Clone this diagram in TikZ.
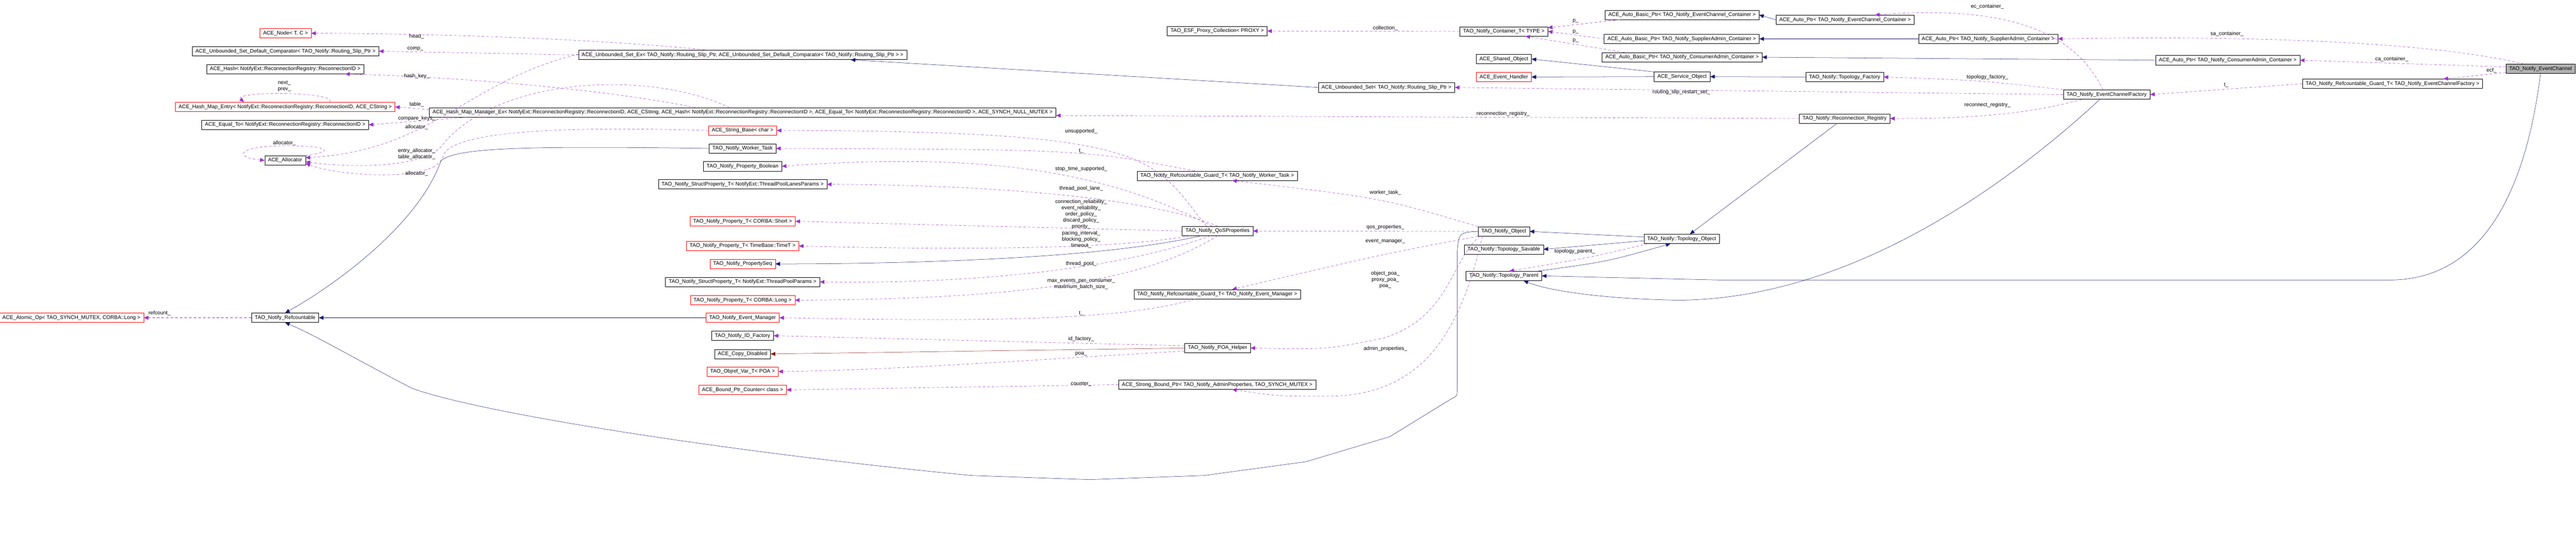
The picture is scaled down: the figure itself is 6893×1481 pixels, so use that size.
\documentclass[tikz,border=0pt]{standalone}
\usepackage{fontspec}
\setmainfont{Liberation Sans}
\usetikzlibrary{arrows.meta,calc}
\definecolor{usecol}{HTML}{9A32CD}
\definecolor{inhcol}{HTML}{191970}
\definecolor{privcol}{HTML}{8B1A1A}
\tikzset{
  cls/.style={draw=black,fill=white,minimum height=0.5cm,inner xsep=5pt,inner ysep=1pt,font=\fontsize{8}{9}\selectfont},
  redcls/.style={cls,draw=red},
  curcls/.style={cls,fill=gray!60},
  use/.style={usecol,dashed,dash pattern=on 4pt off 3pt,-{Triangle[length=7pt,width=6pt]}},
  inh/.style={inhcol,-{Triangle[length=7pt,width=6pt]}},
  priv/.style={privcol,-{Triangle[length=7pt,width=6pt]}},
  lbl/.style={font=\fontsize{8}{9.5}\selectfont,align=center,inner sep=0pt}
}
\begin{document}
\begin{tikzpicture}[x=0.02cm,y=-0.02cm]
\useasboundingbox (0,0) rectangle (6893,1481);
% left column
\node[redcls] (nNode) at (764,89) {ACE\_Node< T, C >};
\node[cls] (nDefComp) at (764,137) {ACE\_Unbounded\_Set\_Default\_Comparator< TAO\_Notify::Routing\_Slip\_Ptr >};
\node[cls] (nHash) at (763,185) {ACE\_Hash< NotifyExt::ReconnectionRegistry::ReconnectionID >};
\node[redcls] (nEntry) at (763,286) {ACE\_Hash\_Map\_Entry< NotifyExt::ReconnectionRegistry::ReconnectionID, ACE\_CString >};
\node[cls] (nEqual) at (763,334) {ACE\_Equal\_To< NotifyExt::ReconnectionRegistry::ReconnectionID >};
\node[cls] (nAlloc) at (763,429) {ACE\_Allocator};
\node[redcls] (nAtomic) at (191,850) {ACE\_Atomic\_Op< TAO\_SYNCH\_MUTEX, CORBA::Long >};
\node[cls] (nRefc) at (763,850) {TAO\_Notify\_Refcountable};
% second column
\node[cls] (nSetEx) at (1987,147) {ACE\_Unbounded\_Set\_Ex< TAO\_Notify::Routing\_Slip\_Ptr, ACE\_Unbounded\_Set\_Default\_Comparator< TAO\_Notify::Routing\_Slip\_Ptr > >};
\node[cls] (nHMM) at (1987,301) {ACE\_Hash\_Map\_Manager\_Ex< NotifyExt::ReconnectionRegistry::ReconnectionID, ACE\_CString, ACE\_Hash< NotifyExt::ReconnectionRegistry::ReconnectionID >, ACE\_Equal\_To< NotifyExt::ReconnectionRegistry::ReconnectionID >, ACE\_SYNCH\_NULL\_MUTEX >};
\node[redcls] (nStrBase) at (1987,349) {ACE\_String\_Base< char >};
\node[cls] (nWorker) at (1987,397) {TAO\_Notify\_Worker\_Task};
\node[cls] (nPBool) at (1987,445) {TAO\_Notify\_Property\_Boolean};
\node[cls] (nLanes) at (1987,493) {TAO\_Notify\_StructProperty\_T< NotifyExt::ThreadPoolLanesParams >};
\node[redcls] (nPShort) at (1987,592) {TAO\_Notify\_Property\_T< CORBA::Short >};
\node[redcls] (nPTime) at (1987,658) {TAO\_Notify\_Property\_T< TimeBase::TimeT >};
\node[redcls] (nPSeq) at (1987,706) {TAO\_Notify\_PropertySeq};
\node[cls] (nPool) at (1987,754) {TAO\_Notify\_StructProperty\_T< NotifyExt::ThreadPoolParams >};
\node[redcls] (nPLong) at (1987,803) {TAO\_Notify\_Property\_T< CORBA::Long >};
\node[redcls] (nEvMgr) at (1987,850) {TAO\_Notify\_Event\_Manager};
\node[cls] (nIdFac) at (1987,898) {TAO\_Notify\_ID\_Factory};
\node[cls] (nCopy) at (1987,947) {ACE\_Copy\_Disabled};
\node[redcls] (nObjref) at (1987,994) {TAO\_Objref\_Var\_T< POA >};
\node[redcls] (nCounter) at (1987,1043) {ACE\_Bound\_Ptr\_Counter< class >};
% third column
\node[cls] (nProxyColl) at (3257,83) {TAO\_ESF\_Proxy\_Collection< PROXY >};
\node[cls] (nUnbSet) at (3710,234) {ACE\_Unbounded\_Set< TAO\_Notify::Routing\_Slip\_Ptr >};
\node[cls] (nGuardWT) at (3257,470) {TAO\_Notify\_Refcountable\_Guard\_T< TAO\_Notify\_Worker\_Task >};
\node[cls] (nQoS) at (3258,618) {TAO\_Notify\_QoSProperties};
\node[cls] (nGuardEM) at (3257,787) {TAO\_Notify\_Refcountable\_Guard\_T< TAO\_Notify\_Event\_Manager >};
\node[cls] (nPOAH) at (3258,931) {TAO\_Notify\_POA\_Helper};
\node[cls] (nStrong) at (3257,1029) {ACE\_Strong\_Bound\_Ptr< TAO\_Notify\_AdminProperties, TAO\_SYNCH\_MUTEX >};
% fourth column
\node[cls] (nContT) at (4024,84) {TAO\_Notify\_Container\_T< TYPE >};
\node[cls] (nShared) at (4024,158) {ACE\_Shared\_Object};
\node[redcls] (nEvHandler) at (4024,206) {ACE\_Event\_Handler};
\node[cls] (nNObj) at (4024,619) {TAO\_Notify\_Object};
\node[cls] (nSavable) at (4024,667) {TAO\_Notify::Topology\_Savable};
\node[cls] (nParent) at (4024,738) {TAO\_Notify::Topology\_Parent};
\node[cls] (nABEC) at (4501,40) {ACE\_Auto\_Basic\_Ptr< TAO\_Notify\_EventChannel\_Container >};
\node[cls] (nABSA) at (4500,104) {ACE\_Auto\_Basic\_Ptr< TAO\_Notify\_SupplierAdmin\_Container >};
\node[cls] (nABCA) at (4501,153) {ACE\_Auto\_Basic\_Ptr< TAO\_Notify\_ConsumerAdmin\_Container >};
\node[cls] (nService) at (4501,205) {ACE\_Service\_Object};
\node[cls] (nTopoObj) at (4500,639) {TAO\_Notify::Topology\_Object};
\node[cls] (nAPEC) at (4937,53) {ACE\_Auto\_Ptr< TAO\_Notify\_EventChannel\_Container >};
\node[cls] (nTopoFac) at (4936,206) {TAO\_Notify::Topology\_Factory};
\node[cls] (nReconReg) at (4936,317) {TAO\_Notify::Reconnection\_Registry};
\node[cls] (nAPSA) at (5320,104) {ACE\_Auto\_Ptr< TAO\_Notify\_SupplierAdmin\_Container >};
\node[cls] (nECF) at (5637,253) {TAO\_Notify\_EventChannelFactory};
\node[cls] (nAPCA) at (5961,161) {ACE\_Auto\_Ptr< TAO\_Notify\_ConsumerAdmin\_Container >};
\node[cls] (nGuardECF) at (6402,224) {TAO\_Notify\_Refcountable\_Guard\_T< TAO\_Notify\_EventChannelFactory >};
\node[curcls] (nEC) at (6798,184) {TAO\_Notify\_EventChannel};
% usage edges, left part
\draw[use] ($(nSetEx.north)+(-90,0)$) .. controls (1600,105) and (1200,90) .. (nNode.east);
\node[lbl] (lHead) at (1115,98) {head\_};
\draw[use] (nSetEx.west) -- (nDefComp.east);
\node[lbl] (lComp) at (1111,131) {comp\_};
\draw[use] ($(nHMM.north)+(-125,0)$) .. controls (1600,235) and (1200,205) .. ($(nHash.south east)+(-50,0)$);
\node[lbl] (lHashKey) at (1115,204) {hash\_key\_};
\draw[use] ($(nEntry.north)+(120,0)$) .. controls (900,244) and (620,244) .. ($(nEntry.north)+(-110,0)$);
\node[lbl] (lNext) at (761,230) {next\_\\prev\_};
\draw[use] ($(nHMM.west)+(0,-8)$) -- (nEntry.east);
\node[lbl] (lTable) at (1115,279) {table\_};
\draw[use] ($(nHMM.south west)+(100,0)$) -- (nEqual.east);
\node[lbl] (lCompKeys) at (1115,317) {compare\_keys\_};
\draw[use] ($(nSetEx.north west)+(50,0)$) .. controls (1250,200) and (1180,400) .. ($(nAlloc.east)+(0,-7)$);
\node[lbl] (lAlloc1) at (1115,340) {allocator\_};
\draw[use] (nAlloc.north east) .. controls (900,405) and (880,390) .. (763,390) .. controls (640,390) and (620,420) .. (nAlloc.west);
\node[lbl] (lAlloc2) at (761,383) {allocator\_};
\draw[use] ($(nHMM.north)+(-35,0)$) .. controls (1750,190) and (1350,200) .. (1190,380) .. controls (1150,450) and (950,450) .. ($(nAlloc.east)+(0,4)$);
\node[lbl] (lEntryAlloc) at (1115,412) {entry\_allocator\_\\table\_allocator\_};
\draw[use] (nStrBase.west) .. controls (1600,340) and (1200,340) .. (1185,420) .. controls (1165,490) and (900,470) .. ($(nAlloc.east)+(0,8)$);
\node[lbl] (lAlloc3) at (1115,465) {allocator\_};
\draw[use] (nRefc.west) -- (nAtomic.east);
\node[lbl] (lRefcount) at (427,838) {refcount\_};
% inheritance into refcountable
\draw[inh] (nWorker.west) .. controls (1400,390) and (1220,395) .. (1180,430) .. controls (1120,600) and (900,760) .. (nRefc.north);
\draw[inh] (nEvMgr.west) -- (nRefc.east);
\draw[inh] (nNObj.west) .. controls (3903,622) .. (3899,680) -- (3899,1040) .. controls (3899,1060) .. (3885,1066) -- (3719,1168) -- (3495,1235) -- (3222,1272) -- (2915,1283) -- (2600,1272) .. controls (2000,1215) and (1300,1110) .. (1103,1039) .. controls (950,960) and (850,900) .. (nRefc.south);
% QoS and friends
\draw[use] ($(nQoS.north)+(-30,0)$) .. controls (3080,420) and (3100,350) .. (nStrBase.east);
\node[lbl] (lUnsup) at (2893,352) {unsupported\_};
\draw[use] ($(nGuardWT.north)+(-60,0)$) .. controls (2900,400) .. (nWorker.east);
\node[lbl] (lT1) at (2893,404) {t\_};
\draw[use] ($(nQoS.north)+(-15,0)$) .. controls (3000,480) and (2700,400) .. (nPBool.east);
\node[lbl] (lStop) at (2893,452) {stop\_time\_supported\_};
\draw[use] ($(nQoS.north)+(0,0)$) .. controls (3050,520) and (2600,495) .. (nLanes.east);
\node[lbl] (lLane) at (2893,504) {thread\_pool\_lane\_};
\draw[use] (nQoS.west) -- (nPShort.east);
\node[lbl] (lShort) at (2893,573) {connection\_reliability\_\\event\_reliability\_\\order\_policy\_\\discard\_policy\_\\priority\_};
\draw[use] ($(nQoS.south west)+(20,0)$) .. controls (3000,665) and (2600,670) .. (nPTime.east);
\node[lbl] (lTime) at (2893,641) {pacing\_interval\_\\blocking\_policy\_\\timeout\_};
\draw[inh] ($(nQoS.south west)+(50,0)$) .. controls (3000,680) and (2600,705) .. (nPSeq.east);
\draw[use] ($(nQoS.south)+(-20,0)$) .. controls (3000,720) and (2600,760) .. (nPool.east);
\node[lbl] (lPool) at (2893,706) {thread\_pool\_};
\draw[use] ($(nQoS.south)+(0,0)$) .. controls (3080,740) and (2800,800) .. (nPLong.east);
\node[lbl] (lLong) at (2893,760) {max\_events\_per\_consumer\_\\maximum\_batch\_size\_};
\draw[use] ($(nGuardEM.south)+(-60,0)$) .. controls (3000,860) and (2600,860) .. (nEvMgr.east);
\node[lbl] (lT2) at (2893,838) {t\_};
\draw[use] ($(nPOAH.west)+(0,-6)$) -- (nIdFac.east);
\node[lbl] (lIdFac) at (2893,907) {id\_factory\_};
\draw[priv] (nPOAH.west) -- (nCopy.east);
\draw[use] ($(nPOAH.west)+(0,8)$) .. controls (2800,960) and (2400,990) .. (nObjref.east);
\node[lbl] (lPoa) at (2893,947) {poa\_};
\draw[use] (nStrong.west) -- (nCounter.east);
\node[lbl] (lCounter) at (2893,1027) {counter\_};
% TAO_Notify_Object members
\draw[use] (nNObj.north west) .. controls (3700,530) .. ($(nGuardWT.south)+(40,0)$);
\node[lbl] (lWorker) at (3707,516) {worker\_task\_};
\draw[use] (nNObj.west) -- (nQoS.east);
\node[lbl] (lQos) at (3707,608) {qos\_properties\_};
\draw[use] (nNObj.south west) .. controls (3700,680) .. ($(nGuardEM.north)+(40,0)$);
\node[lbl] (lEvMgr) at (3707,645) {event\_manager\_};
\draw[use] ($(nNObj.south west)+(5,0)$) .. controls (3880,700) and (3880,850) .. (3700,905) .. controls (3550,935) .. (nPOAH.east);
\node[lbl] (lPoas) at (3707,748) {object\_poa\_\\proxy\_poa\_\\poa\_};
\draw[use] ($(nNObj.south west)+(12,0)$) .. controls (3905,900) and (3800,1060) .. (3550,1060) .. controls (3420,1060) .. ($(nStrong.south)+(40,0)$);
\node[lbl] (lAdmin) at (3707,933) {admin\_properties\_};
\draw[use] (nContT.west) -- (nProxyColl.east);
\node[lbl] (lColl) at (3707,76) {collection\_};
\draw[inh] (nUnbSet.west) -- ($(nSetEx.south east)+(-150,0)$);
\draw[use] (nReconReg.west) -- ($(nHMM.east)+(0,8)$);
\node[lbl] (lReconReg) at (4022,305) {reconnection\_registry\_};
% containers
\draw[use] ($(nABEC.south west)+(40,0)$) -- ($(nContT.north east)+(0,3)$);
\draw[use] (nABSA.west) -- (nContT.east);
\draw[use] ($(nABCA.north west)+(60,0)$) -- ($(nContT.south east)+(-60,0)$);
\node[lbl] (lP1) at (4216,56) {p\_};
\node[lbl] (lP2) at (4216,85) {p\_};
\node[lbl] (lP3) at (4216,108) {p\_};
\draw[inh] (nAPEC.west) -- (nABEC.east);
\draw[inh] (nAPSA.west) -- (nABSA.east);
\draw[inh] (nAPCA.west) -- (nABCA.east);
\draw[inh] (nService.north west) -- (nShared.east);
\draw[inh] (nService.west) -- (nEvHandler.east);
\draw[inh] (nTopoFac.west) -- (nService.east);
% topology
\draw[inh] ($(nReconReg.south)+(-20,0)$) -- ($(nTopoObj.north)+(22,0)$);
\draw[inh] ($(nTopoObj.west)+(0,-5)$) -- (nNObj.east);
\draw[inh] ($(nTopoObj.west)+(0,5)$) -- (nSavable.east);
\draw[inh] ($(nParent.north east)+(-10,0)$) .. controls (4300,700) .. ($(nTopoObj.south)+(-30,0)$);
\draw[use] ($(nTopoObj.south west)+(10,0)$) .. controls (4250,690) .. ($(nParent.north)+(15,0)$);
\node[lbl] (lParent) at (4214,673) {topology\_parent\_};
% event channel factory
\draw[inh] ($(nECF.south)+(-18,0)$) .. controls (5300,560) and (4900,800) .. (4493,803) .. controls (4300,800) and (4150,780) .. ($(nParent.south)+(53,0)$);
\draw[inh] (nEC.south) .. controls (6760,500) and (6650,745) .. (6400,749) -- (4600,749) -- (nParent.east);
\draw[use] (nECF.west) -- (nUnbSet.east);
\node[lbl] (lSlip) at (4499,246) {routing\_slip\_restart\_set\_};
\draw[use] (nECF.north west) .. controls (5300,215) .. (nTopoFac.east);
\node[lbl] (lTopoFac) at (5318,207) {topology\_factory\_};
\draw[use] ($(nECF.south west)+(50,0)$) .. controls (5450,300) and (5300,318) .. (nReconReg.east);
\node[lbl] (lReconnect) at (5318,281) {reconnect\_registry\_};
\draw[use] ($(nECF.north)+(-10,0)$) .. controls (5560,100) and (5400,10) .. ($(nAPEC.north east)+(-105,0)$);
\node[lbl] (lEcCont) at (5318,18) {ec\_container\_};
\draw[use] ($(nEC.north)+(-45,0)$) .. controls (6500,110) and (6000,95) .. (nAPSA.east);
\node[lbl] (lSaCont) at (5959,91) {sa\_container\_};
\draw[use] ($(nEC.west)+(0,-5)$) -- (nAPCA.east);
\node[lbl] (lCaCont) at (6400,158) {ca\_container\_};
\draw[use] ($(nEC.south west)+(0,-3)$) -- ($(nGuardECF.north east)+(-105,0)$);
\node[lbl] (lEcf) at (6667,188) {ecf\_};
\draw[use] (nGuardECF.west) -- (nECF.east);
\node[lbl] (lT3) at (5957,228) {t\_};
\end{tikzpicture}
\end{document}
